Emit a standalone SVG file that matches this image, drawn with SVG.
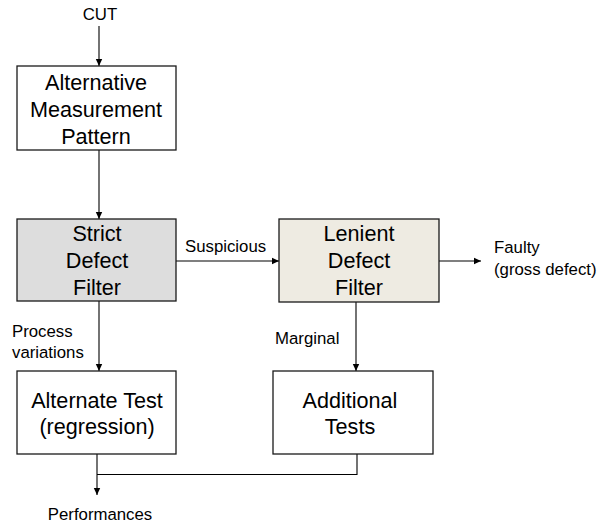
<svg xmlns="http://www.w3.org/2000/svg" width="598" height="529" viewBox="0 0 598 529">
<defs>
<marker id="ah" markerWidth="8" markerHeight="8" refX="7" refY="4" orient="auto" markerUnits="userSpaceOnUse">
<path d="M0,0.8 L7,4 L0,7.2 Z" fill="#000"/>
</marker>
<style>
.box{stroke:#1a1a1a;stroke-width:1.3}
.bt{font-family:"Liberation Sans",Arial,sans-serif;font-size:21.6px;fill:#000;text-anchor:middle}
.lt{font-family:"Liberation Sans",Arial,sans-serif;font-size:16.8px;fill:#000}
.c{fill:none;stroke:#000;stroke-width:1.1}
</style>
</defs>
<rect width="598" height="529" fill="#fff"/>
<g id="connectors">
<line class="c" x1="99" y1="26" x2="99" y2="66" marker-end="url(#ah)"/>
<line class="c" x1="99" y1="150" x2="99" y2="219" marker-end="url(#ah)"/>
<line class="c" x1="176" y1="261" x2="279" y2="261" marker-end="url(#ah)"/>
<line class="c" x1="439" y1="261" x2="481" y2="261" marker-end="url(#ah)"/>
<line class="c" x1="99" y1="301" x2="99" y2="371" marker-end="url(#ah)"/>
<line class="c" x1="356" y1="302" x2="356" y2="371" marker-end="url(#ah)"/>
<polyline class="c" points="357,454 357,474.5 97,474.5" stroke="#555"/>
<line class="c" x1="97" y1="454" x2="97" y2="495" marker-end="url(#ah)"/>
<text class="lt" x="100" y="20" text-anchor="middle">CUT</text>
<text class="lt" x="185" y="252">Suspicious</text>
<text class="lt" x="494" y="253">Faulty</text>
<text class="lt" x="494" y="275">(gross defect)</text>
<text class="lt" x="12" y="337">Process</text>
<text class="lt" x="12" y="358">variations</text>
<text class="lt" x="275" y="344">Marginal</text>
<text class="lt" x="100" y="520" text-anchor="middle">Performances</text>
</g>
<g id="amp">
<rect class="box" x="17" y="66" width="159" height="84" fill="#fff"/>
<text class="bt" x="96" y="90">Alternative</text>
<text class="bt" x="96" y="117">Measurement</text>
<text class="bt" x="96" y="144">Pattern</text>
</g>
<g id="strict">
<rect class="box" x="17" y="219" width="159" height="82" fill="#dddddd"/>
<text class="bt" x="97" y="241">Strict</text>
<text class="bt" x="97" y="268">Defect</text>
<text class="bt" x="97" y="295">Filter</text>
</g>
<g id="lenient">
<rect class="box" x="279" y="219" width="160" height="83" fill="#eeebe2"/>
<text class="bt" x="359" y="241">Lenient</text>
<text class="bt" x="359" y="268">Defect</text>
<text class="bt" x="359" y="295">Filter</text>
</g>
<g id="alternate">
<rect class="box" x="17" y="371" width="159" height="83" fill="#fff"/>
<text class="bt" x="97" y="408">Alternate Test</text>
<text class="bt" x="97" y="434">(regression)</text>
</g>
<g id="additional">
<rect class="box" x="273" y="371" width="160" height="83" fill="#fff"/>
<text class="bt" x="350" y="408">Additional</text>
<text class="bt" x="350" y="434">Tests</text>
</g>
</svg>
